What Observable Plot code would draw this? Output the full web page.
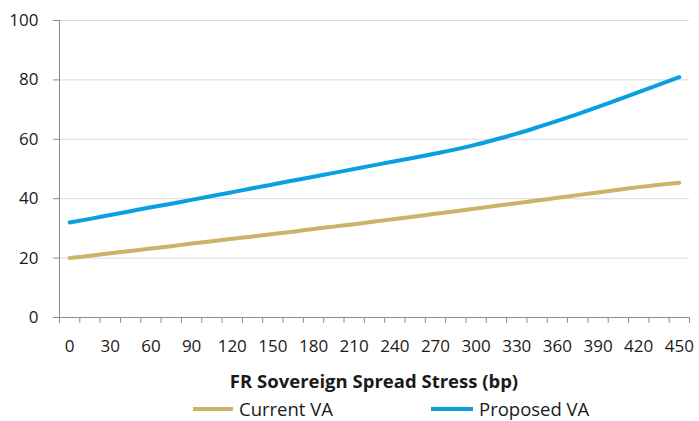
<!DOCTYPE html>
<html>
<head>
<meta charset="utf-8">
<script src="https://cdn.jsdelivr.net/npm/d3@7"></script>
<script src="https://cdn.jsdelivr.net/npm/@observablehq/plot@0.6"></script>
<style>
  html, body { margin: 0; padding: 0; background: white; overflow: hidden; }
  #wrap { position: relative; width: 699px; height: 421px; font-family: "Open Sans", sans-serif; color: #1a1a1a; }
  #title { position: absolute; left: 59px; width: 630px; top: 369px; height: 24px; line-height: 24px; text-align: center; font-weight: bold; font-size: 18.5px; }
  .leg { position: absolute; top: 398px; height: 22px; line-height: 22px; font-size: 18.5px; display: flex; align-items: center; white-space: nowrap; }
  .sw { display: inline-block; height: 4px; margin-right: 6px; }
</style>
</head>
<body>
<div id="wrap">
  <div id="chart"></div>
  <div id="title">FR Sovereign Spread Stress (bp)</div>
  <div class="leg" style="left:193px"><span class="sw" style="width:40px;background:#CBB36A"></span>Current VA</div>
  <div class="leg" style="left:431px"><span class="sw" style="width:42px;background:#0AA0E0"></span>Proposed VA</div>
</div>
<script>
const spreads = [0,15,30,45,60,75,90,105,120,135,150,165,180,195,210,225,240,255,270,285,300,315,330,345,360,375,390,405,420,435,450];
const currentVA = [20.0,20.8,21.6,22.4,23.2,24.0,24.9,25.7,26.5,27.3,28.1,28.9,29.8,30.6,31.4,32.3,33.2,34.0,34.9,35.8,36.7,37.6,38.5,39.4,40.3,41.2,42.1,43.0,43.9,44.7,45.4];
const proposedVA = [32.0,33.2,34.5,35.8,37.1,38.3,39.6,40.9,42.2,43.5,44.8,46.1,47.4,48.7,50.0,51.3,52.6,53.9,55.2,56.6,58.2,60.0,61.9,64.0,66.2,68.5,70.9,73.4,75.9,78.4,80.9];
const xTickLabels = [0,30,60,90,120,150,180,210,240,270,300,330,360,390,420,450];
const yTicks = [0,20,40,60,80,100];

const half = (spreads[1] - spreads[0]) / 2;
const boundaries = spreads.map(v => v - half).concat([spreads[spreads.length - 1] + half]);

const data = spreads.map((s, i) => ({spread: s, current: currentVA[i], proposed: proposedVA[i]}));

const axisColor = "#8c8c8c";
const chart = Plot.plot({
  width: 699,
  height: 360,
  marginLeft: 59,
  marginRight: 10,
  marginTop: 20,
  marginBottom: 43,
  style: {fontFamily: "Open Sans, sans-serif", fontSize: "17px", color: "#1a1a1a", background: "white"},
  x: {type: "linear", domain: [boundaries[0], boundaries[boundaries.length - 1]], axis: null},
  y: {domain: [0, 100], axis: null},
  marks: [
    Plot.gridY(yTicks, {stroke: "#d9d9d9", strokeOpacity: 1}),
    Plot.axisY(yTicks, {tickSize: 6, tickPadding: 15, stroke: axisColor, fill: "#1a1a1a", label: null}),
    Plot.axisX(boundaries, {tickSize: 6, tickFormat: () => "", stroke: axisColor, label: null}),
    Plot.axisX(xTickLabels, {tickSize: 0, tickPadding: 22, fill: "#1a1a1a", label: null}),
    Plot.ruleY([0], {stroke: axisColor}),
    Plot.ruleX([boundaries[0]], {stroke: axisColor}),
    Plot.line(data, {x: "spread", y: "current", stroke: "#CBB36A", strokeWidth: 4, curve: "monotone-x"}),
    Plot.line(data, {x: "spread", y: "proposed", stroke: "#0AA0E0", strokeWidth: 4, curve: "monotone-x"})
  ]
});
document.getElementById("chart").appendChild(chart);
</script>
</body>
</html>
